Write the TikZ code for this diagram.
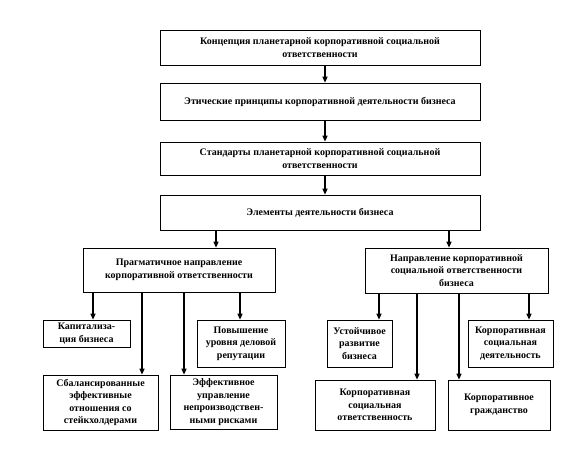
\documentclass[tikz,border=0pt]{standalone}
\usepackage{fontspec}
\setmainfont{Liberation Serif}
\usetikzlibrary{arrows.meta}
\begin{document}
\begin{tikzpicture}[x=1pt,y=-1pt,
  box/.style={draw=black, line width=0.7pt, rectangle, align=center, inner sep=1pt,
    font=\fontsize{10}{12.5}\selectfont\bfseries},
  arr/.style={line width=1.2pt, -{Triangle[width=5pt,length=6pt]}}]
\useasboundingbox (0,0) rectangle (574,466);
\node[box, minimum width=320pt, minimum height=35pt] (b1) at (320,47.5)
  {Концепция планетарной корпоративной социальной\\ответственности};
\node[box, minimum width=320pt, minimum height=37pt] (b2) at (320,101.5)
  {Этические принципы корпоративной деятельности бизнеса};
\node[box, minimum width=320pt, minimum height=33pt] (b3) at (320,158.5)
  {Стандарты планетарной корпоративной социальной\\ответственности};
\node[box, minimum width=320pt, minimum height=35pt] (b4) at (320,212.5)
  {Элементы деятельности бизнеса};
\node[box, minimum width=192pt, minimum height=44pt] (L) at (179,270)
  {Прагматичное направление\\корпоративной ответственности};
\node[box, minimum width=183pt, minimum height=45pt] (R) at (456.5,270.5)
  {Направление корпоративной\\социальной ответственности\\бизнеса};
\node[box, minimum width=87pt, minimum height=27pt] (L1) at (86.5,333.5)
  {Капитализа-\\ция бизнеса};
\node[box, minimum width=88pt, minimum height=47pt] (L2) at (241,343.5)
  {Повышение\\уровня деловой\\репутации};
\node[box, minimum width=115pt, minimum height=55pt] (L3) at (100.5,402.5)
  {Сбалансированные\\эффективные\\отношения со\\стейкхолдерами};
\node[box, minimum width=107pt, minimum height=54pt] (L4) at (223.5,402)
  {Эффективное\\управление\\непроизводствен-\\ными рисками};
\node[box, minimum width=65pt, minimum height=47pt] (R1) at (359.5,343.5)
  {Устойчивое\\развитие\\бизнеса};
\node[box, minimum width=85pt, minimum height=47pt] (R2) at (510.5,343.5)
  {Корпоративная\\социальная\\деятельность};
\node[box, minimum width=120pt, minimum height=50pt] (R3) at (375,405)
  {Корпоративная\\социальная\\ответственность};
\node[box, minimum width=102pt, minimum height=50pt] (R4) at (499,405)
  {Корпоративное\\гражданство};
\draw[arr] (b1.south -| 325,0) -- (b2.north -| 325,0);
\draw[arr] (b2.south -| 325,0) -- (b3.north -| 325,0);
\draw[arr] (b3.south -| 325,0) -- (b4.north -| 325,0);
\draw[arr] (b4.south -| 216,0) -- (L.north -| 216,0);
\draw[arr] (b4.south -| 449,0) -- (R.north -| 449,0);
\draw[arr] (L.south -| 93,0) -- (L1.north -| 93,0);
\draw[arr] (L.south -| 240,0) -- (L2.north -| 240,0);
\draw[arr] (L.south -| 142,0) -- (L3.north -| 142,0);
\draw[arr] (L.south -| 184,0) -- (L4.north -| 184,0);
\draw[arr] (R.south -| 379,0) -- (R1.north -| 379,0);
\draw[arr] (R.south -| 529,0) -- (R2.north -| 529,0);
\draw[arr] (R.south -| 417,0) -- (R3.north -| 417,0);
\draw[arr] (R.south -| 459,0) -- (R4.north -| 459,0);
\end{tikzpicture}
\end{document}
